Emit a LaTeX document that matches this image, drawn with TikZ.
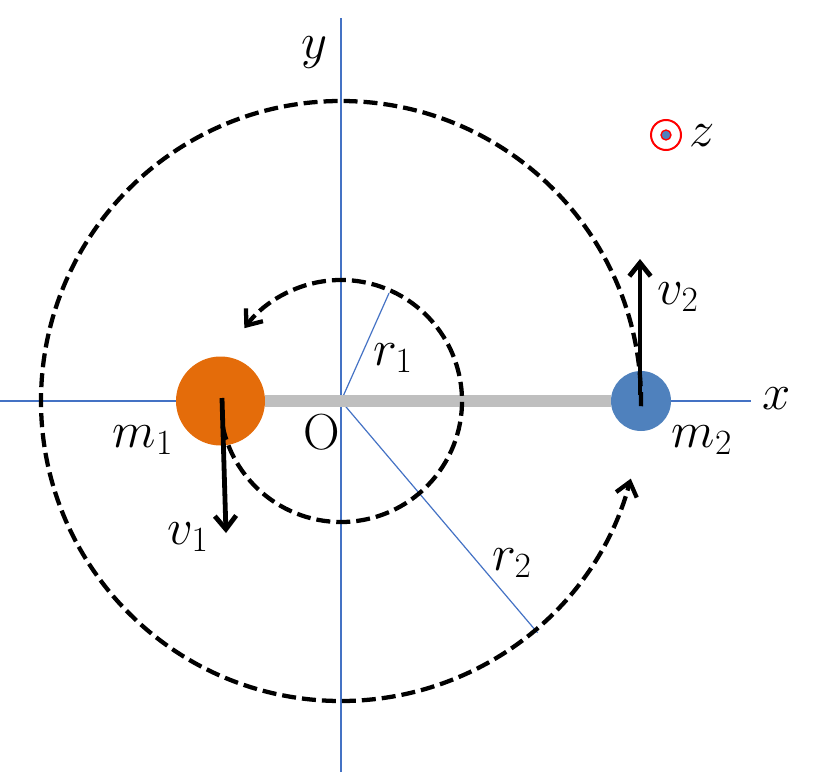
\RequirePackage{fix-cm}
\documentclass[tikz,border=0pt]{standalone}
\usetikzlibrary{arrows.meta}
\definecolor{axisblue}{RGB}{68,114,196}
\definecolor{rodgray}{RGB}{191,191,191}
\definecolor{mone}{RGB}{228,108,10}
\definecolor{mtwo}{RGB}{79,129,189}
\begin{document}
\begin{tikzpicture}[x=0.75pt,y=0.75pt,
  axisline/.style={draw=axisblue,line width=1.1pt},
  radline/.style={draw=axisblue,line width=0.9pt},
  orbit/.style={line width=3.2pt,dash pattern=on 10.5pt off 4.5pt,
    -{Straight Barb[length=10pt,width=16pt]}},
  vel/.style={line width=3.6pt,-{Straight Barb[length=10pt,width=16pt]}},
  lab/.style={font=\fontsize{38}{44}\selectfont,inner sep=0pt},
  mass/.style={circle,inner sep=0pt,draw=none}
]
\useasboundingbox (-341,-371) rectangle (480,401);
\coordinate (O) at (0,0);
\coordinate (xl) at (-341,0);
\coordinate (xr) at (410,0);
\coordinate (yt) at (0,383);
\coordinate (yb) at (0,-371);
\coordinate (r1e) at (66:118);
\coordinate (r2e) at (-49.7:304);
% axes
\draw[axisline] (xl) -- (xr);
\draw[axisline] (yb) -- (yt);
% radius lines
\draw[radline] (O) -- (r1e);
\draw[radline] (O) -- (r2e);
% masses
\node[mass,fill=mone,minimum size=66.75pt] (m1) at (-120.5,0) {};
\node[mass,fill=mtwo,minimum size=45pt] (m2) at (300,0) {};
% rod
\draw[rodgray,line width=8.5pt] (m1.east) -- (m2.west);
% orbits
\draw[orbit] (192:121) arc[start angle=192,end angle=503,radius=121];
\draw[orbit] (-1:300) arc[start angle=-1,end angle=345,radius=300];
% velocity arrows
\coordinate (v1s) at (-119,3);
\coordinate (v1e) at (-115,-132);
\coordinate (v2s) at (299,6);
\coordinate (v2e) at (299,142);
\draw[vel] (v1s) -- (v1e);
\draw[vel] (v2s) -- (v2e);
% z symbol
\node[circle,draw=red,line width=1.5pt,minimum size=22.5pt,inner sep=0pt] (zring) at (325,266) {};
\node[circle,draw=red,fill=mtwo,line width=1pt,minimum size=7.5pt,inner sep=0pt] (zdot) at (zring.center) {};
% labels
\node[lab] (ylab) at (-26,348) {$y$};
\node[lab] (xlab) at (436,2) {$x$};
\node[lab] (zlab) at (361,265) {$z$};
\node[lab] (Olab) at (-19,-31) {O};
\node[lab] (m1lab) at (-198,-39) {$m_1$};
\node[lab] (m2lab) at (361,-39) {$m_2$};
\node[lab] (v1lab) at (-153,-136) {$v_1$};
\node[lab] (v2lab) at (337,104) {$v_2$};
\node[lab] (r1lab) at (52,43) {$r_1$};
\node[lab] (r2lab) at (171,-162) {$r_2$};
\end{tikzpicture}
\end{document}
